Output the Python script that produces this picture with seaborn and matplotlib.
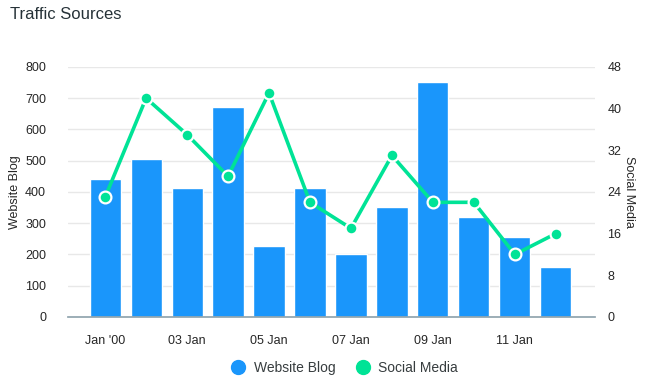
import pandas as pd
import matplotlib.pyplot as plt
import seaborn as sns

dates = ["01 Jan", "02 Jan", "03 Jan", "04 Jan", "05 Jan", "06 Jan",
         "07 Jan", "08 Jan", "09 Jan", "10 Jan", "11 Jan", "12 Jan"]
website_blog = [440, 505, 414, 671, 227, 413, 201, 352, 752, 320, 257, 160]
social_media = [23, 42, 35, 27, 43, 22, 17, 31, 22, 22, 12, 16]
tick_labels = ["Jan '00", "03 Jan", "05 Jan", "07 Jan", "09 Jan", "11 Jan"]

df = pd.DataFrame({"date": dates, "blog": website_blog, "social": social_media})
df["pos"] = range(len(df))

sns.set_theme(style="white")
plt.rcParams["font.family"] = ["Liberation Sans", "DejaVu Sans"]

blue = "#1a96fb"
green = "#00e396"

fig = plt.figure(figsize=(6.5, 3.8), dpi=100)
ax = fig.add_axes([0.105, 0.166, 0.81, 0.658])

# bars: website blog
sns.barplot(data=df, x="pos", y="blog", color=blue, saturation=1, width=0.76,
            ax=ax, zorder=2)
ax.set_ylim(0, 800)
ax.set_yticks(range(0, 801, 100))
ax.set_xlim(-0.9, 11.95)
ax.set_xticks(range(0, 12, 2))
ax.set_xticklabels(tick_labels)
ax.grid(axis="y", color="#e8e8e8", linewidth=1, zorder=0)
ax.set_axisbelow(True)
for s in ["top", "right", "left"]:
    ax.spines[s].set_visible(False)
ax.spines["bottom"].set_color("#90a4ae")
ax.tick_params(axis="x", length=6, color="#90a4ae", labelsize=9, pad=7)
ax.tick_params(axis="y", length=0, labelsize=9, pad=16)
ax.set_xlabel("")
ax.set_ylabel("Website Blog", fontsize=9)
ax.yaxis.set_label_coords(-0.09, 0.5)

# line: social media
ax2 = ax.twinx()
sns.lineplot(data=df, x="pos", y="social", color=green, linewidth=2.6,
             marker="o", markersize=8.5, markerfacecolor=green,
             markeredgecolor="white", markeredgewidth=1.6, ax=ax2, zorder=3)
ax2.set_ylim(0, 48)
ax2.set_yticks(range(0, 49, 8))
ax2.set_xlim(-0.9, 11.95)
for s in ["top", "right", "left", "bottom"]:
    ax2.spines[s].set_visible(False)
ax2.tick_params(axis="y", length=0, labelsize=9, pad=9)
ax2.set_ylabel("Social Media", fontsize=9, rotation=270, va="center")
ax2.yaxis.set_label_coords(1.066, 0.5)

fig.text(0.015, 0.963, "Traffic Sources", fontsize=12, color="#263238",
         ha="left", va="center")

handles = [plt.Line2D([], [], marker="o", linestyle="", markersize=10, color=blue),
           plt.Line2D([], [], marker="o", linestyle="", markersize=10, color=green)]
fig.legend(handles, ["Website Blog", "Social Media"], loc="center",
           bbox_to_anchor=(0.525, 0.032), ncol=2, frameon=False, fontsize=10,
           handletextpad=0.1, columnspacing=1.0, labelcolor="#373d3f")

fig.savefig("out.png", dpi=100)
